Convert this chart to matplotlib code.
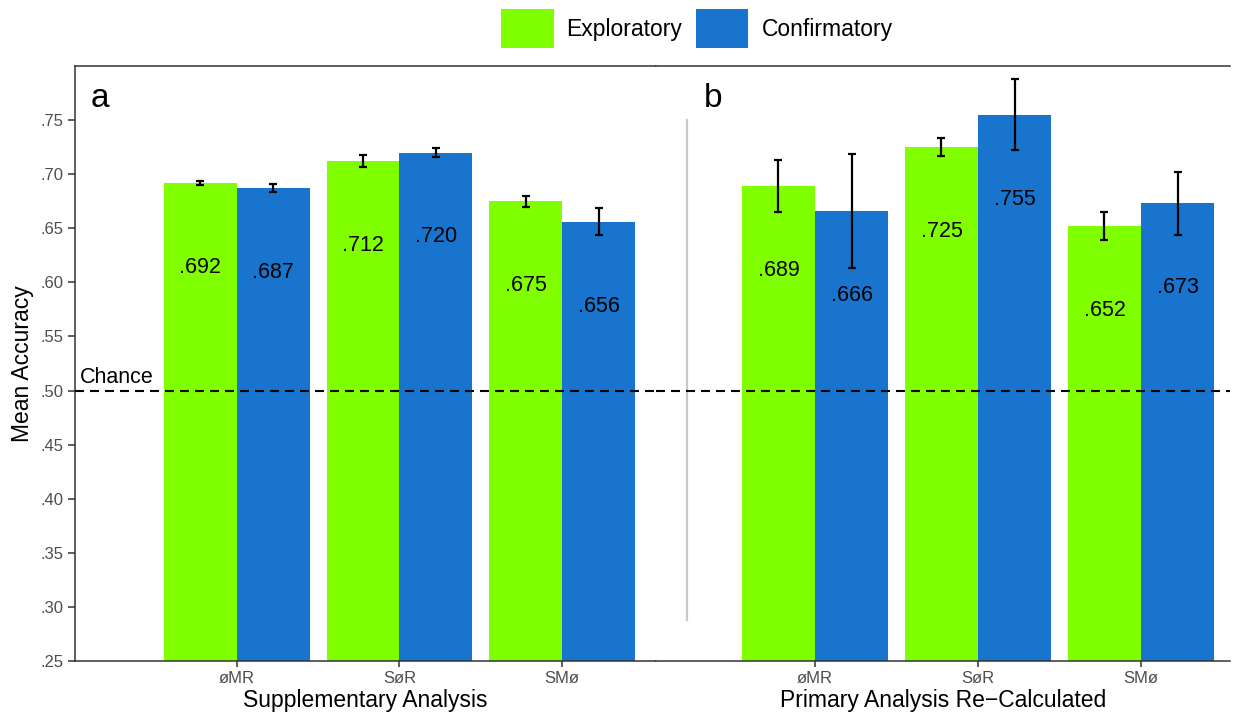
import matplotlib
matplotlib.use("Agg")
import matplotlib.pyplot as plt
import matplotlib.transforms as mtransforms
import numpy as np

plt.rcParams['font.family'] = ['Liberation Sans', 'DejaVu Sans']

conditions = ["øMR", "SøR", "SMø"]
series = ["Exploratory", "Confirmatory"]
colors = ["#7FFF00", "#1874CD"]

# Panel a: Supplementary Analysis
a_exp = [0.692, 0.712, 0.675]
a_conf = [0.687, 0.720, 0.656]
a_exp_err = [0.0019, 0.0055, 0.005]
a_conf_err = [0.0035, 0.0045, 0.0125]

# Panel b: Primary Analysis Re-Calculated
b_exp = [0.689, 0.725, 0.652]
b_conf = [0.666, 0.755, 0.673]
b_exp_err = [0.024, 0.008, 0.013]
b_conf_err = [0.053, 0.033, 0.029]

yticks = [0.25, 0.30, 0.35, 0.40, 0.45, 0.50, 0.55, 0.60, 0.65, 0.70, 0.75]
ytick_labels = [".25", ".30", ".35", ".40", ".45", ".50", ".55", ".60", ".65", ".70", ".75"]
chance = 0.5

W, H = 1233, 717
fig = plt.figure(figsize=(W / 100, H / 100), dpi=100)

def fx(px):
    return px / W

def fy(py):
    return 1 - py / H

top_px, bot_px = 66, 661
ax1 = fig.add_axes([fx(75), fy(bot_px), fx(656) - fx(75), (bot_px - top_px) / H])
ax2 = fig.add_axes([fx(656), fy(bot_px), fx(1230) - fx(656), (bot_px - top_px) / H])

spine_col = "#333333"
tick_lab_col = "#4D4D4D"
width = 0.448

def draw_panel(ax, exp, conf, exp_err, conf_err, xlabel, letter, xlim):
    x = np.arange(1, len(conditions) + 1)
    for vals, errs, col, off, name in [(exp, exp_err, colors[0], -width / 2, series[0]),
                                       (conf, conf_err, colors[1], width / 2, series[1])]:
        ax.bar(x + off, vals, width=width, color=col, label=name, zorder=2,
               bottom=0, linewidth=0)
        ax.errorbar(x + off, vals, yerr=errs, fmt='none', ecolor='black',
                    elinewidth=1.6, capsize=3.2, capthick=1.6, zorder=4)
        for xi, v in zip(x + off, vals):
            ax.text(xi, v - 0.078, ("%.3f" % v).lstrip("0"), ha='center', va='center',
                    fontsize=15.5, color='black', zorder=5)
    ax.axhline(chance, color='black', lw=1.5, linestyle=(0, (4.3, 2.9)), zorder=3)
    ax.set_xlim(*xlim)
    ax.set_ylim(0.25, 0.80)
    ax.set_xticks(x)
    ax.set_xticklabels(conditions)
    ax.set_xlabel(xlabel, fontsize=16.5, labelpad=2)
    ax.tick_params(axis='x', colors=spine_col, labelcolor=tick_lab_col, labelsize=12,
                   length=4, width=1.1, pad=3)
    ax.text(letter[1], 1 - (107 - 66) / 595, letter[0], transform=ax.transAxes,
            fontsize=24, ha='left', va='baseline')
    for s in ['top', 'bottom', 'left', 'right']:
        ax.spines[s].set_color(spine_col)
        ax.spines[s].set_linewidth(1.1)
    ax.spines['right'].set_visible(False)

draw_panel(ax1, a_exp, a_conf, a_exp_err, a_conf_err, "Supplementary Analysis",
           ("a", (91 - 75) / 581), (0.006, 3.577))
draw_panel(ax2, b_exp, b_conf, b_exp_err, b_conf_err, "Primary Analysis Re\u2212Calculated",
           ("b", (704 - 656) / 574), (0.0245, 3.546))

ax1.set_yticks(yticks)
ax1.set_yticklabels(ytick_labels)
ax1.tick_params(axis='y', colors=spine_col, labelcolor=tick_lab_col, labelsize=12,
                length=5, width=1.1, pad=3)
ax1.set_ylabel("Mean Accuracy", fontsize=16.5, labelpad=5)
ax1.text(0.008, chance + 0.002, "Chance", fontsize=15.5, ha='left', va='bottom',
         transform=mtransforms.blended_transform_factory(ax1.transAxes, ax1.transData))

ax2.spines['left'].set_visible(False)
ax2.set_yticks([])

# separator between panels
sep_tr = mtransforms.blended_transform_factory(ax2.transAxes, ax2.transData)
ax2.plot([(687 - 656) / 574] * 2, [0.288, 0.75], color="#C8C8C8", lw=1.6,
         transform=sep_tr, clip_on=False, zorder=1)

handles, labels = ax1.get_legend_handles_labels()
fs = 16.5
fig.legend(handles[:2], labels[:2], loc='center', bbox_to_anchor=(0.565, 0.96), ncol=2,
           frameon=False, fontsize=fs, handlelength=2.31, handleheight=2.24,
           handletextpad=0.57, columnspacing=0.57, borderpad=0, borderaxespad=0)

fig.savefig("out.png", dpi=100)
